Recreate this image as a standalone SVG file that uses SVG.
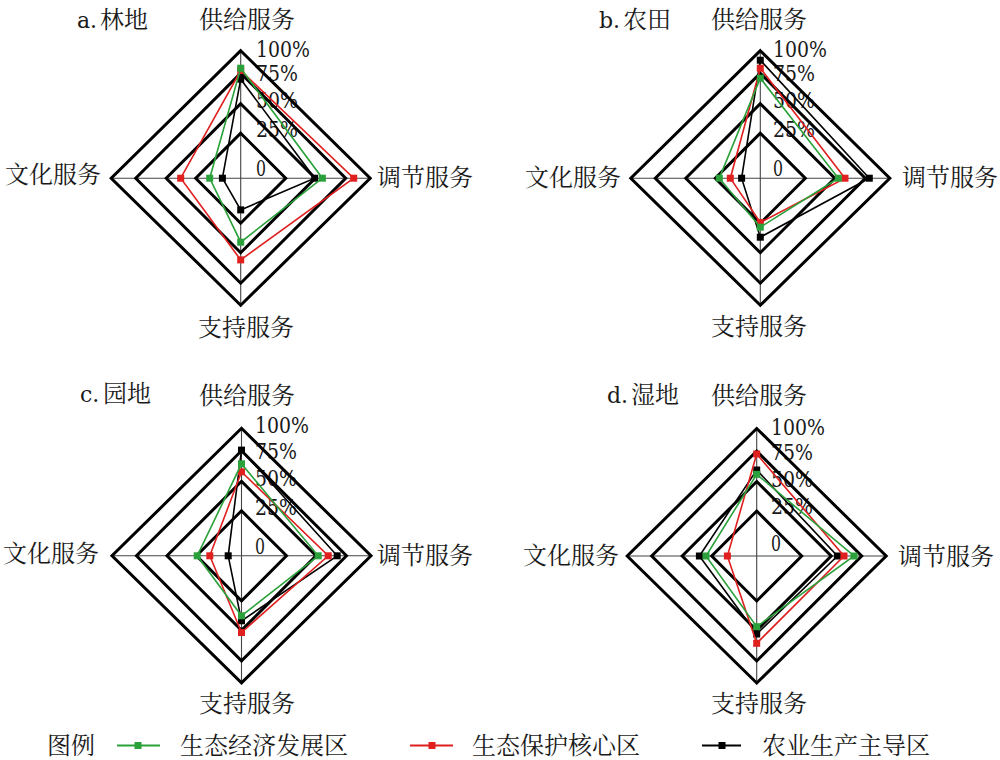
<svg xmlns="http://www.w3.org/2000/svg" xmlns:xlink="http://www.w3.org/1999/xlink" width="1000" height="760" viewBox="0 0 1000 760">
<style>
.lb{font-family:'Noto Serif CJK SC','Noto Sans CJK SC',sans-serif;font-size:24px;fill:#1a1a1a}
.num{font-family:'DejaVu Serif',serif;font-size:22px;fill:#1a1a1a}
.lat{font-family:'DejaVu Serif',serif;font-size:22px}
.ring{fill:none;stroke:#000;stroke-width:3;stroke-linejoin:miter}
.axis{stroke:#444;stroke-width:1.1}
.g{fill:none;stroke:#2aa13a;stroke-width:1.6;marker-start:url(#mg);marker-mid:url(#mg)}
.r{fill:none;stroke:#e01f1f;stroke-width:1.6;marker-start:url(#mr);marker-mid:url(#mr)}
.k{fill:none;stroke:#000;stroke-width:1.6;marker-start:url(#mk);marker-mid:url(#mk)}
</style>
<defs>
<marker id="mg" markerUnits="userSpaceOnUse" markerWidth="8" markerHeight="8" refX="4" refY="4" viewBox="0 0 8 8"><rect x="0.5" y="0.5" width="7" height="7" fill="#2aa13a"/></marker>
<marker id="mr" markerUnits="userSpaceOnUse" markerWidth="8" markerHeight="8" refX="4" refY="4" viewBox="0 0 8 8"><rect x="0.5" y="0.5" width="7" height="7" fill="#e01f1f"/></marker>
<marker id="mk" markerUnits="userSpaceOnUse" markerWidth="8" markerHeight="8" refX="4" refY="4" viewBox="0 0 8 8"><rect x="0.5" y="0.5" width="7" height="7" fill="#000"/></marker>
<g id="grid">
<line class="axis" x1="0" y1="-128.5" x2="0" y2="128.5"/>
<line class="axis" x1="-129.5" y1="0" x2="129.5" y2="0"/>
<path class="ring" d="M0,-45 L45,0 L0,45 L-45,0 Z"/>
<path class="ring" d="M0,-74.5 L74.5,0 L0,74.5 L-74.5,0 Z"/>
<path class="ring" d="M0,-105 L105,0 L0,105 L-105,0 Z"/>
<path class="ring" d="M0,-127.5 L129.5,0 L0,127 L-129.5,0 Z"/>
</g>
</defs>

<g id="chart-a">
<text class="num" x="256" y="57" textLength="54" lengthAdjust="spacingAndGlyphs">100%</text>
<text class="num" x="256" y="81" textLength="42" lengthAdjust="spacingAndGlyphs">75%</text>
<text class="num" x="256" y="108" textLength="42" lengthAdjust="spacingAndGlyphs">50%</text>
<text class="num" x="256" y="137" textLength="42" lengthAdjust="spacingAndGlyphs">25%</text>
<text class="num" x="256" y="176" textLength="10" lengthAdjust="spacingAndGlyphs">0</text>
<g transform="translate(240.7,178.2)">
<use xlink:href="#grid"/>
<g id="series-a">
<path class="k" d="M0,-99 L74,0 L0,31.7 L-18.3,0 Z"/>
<path class="r" d="M0,-107.7 L113,0 L0,81.7 L-60,0 Z"/>
<path class="g" d="M0,-110 L81.7,0 L0,64 L-31,0 Z"/>
</g>
</g>
<text class="lb" x="77" y="28"><tspan class="lat">a.</tspan><tspan x="100">林地</tspan></text>
<text class="lb" x="199" y="28">供给服务</text>
<text class="lb" x="5" y="183">文化服务</text>
<text class="lb" x="377" y="186">调节服务</text>
<text class="lb" x="198" y="336">支持服务</text>
</g>

<g id="chart-b">
<text class="num" x="773" y="57" textLength="54" lengthAdjust="spacingAndGlyphs">100%</text>
<text class="num" x="773" y="81" textLength="42" lengthAdjust="spacingAndGlyphs">75%</text>
<text class="num" x="773" y="108" textLength="42" lengthAdjust="spacingAndGlyphs">50%</text>
<text class="num" x="773" y="137" textLength="42" lengthAdjust="spacingAndGlyphs">25%</text>
<text class="num" x="773" y="176" textLength="10" lengthAdjust="spacingAndGlyphs">0</text>
<g transform="translate(760.3,178.2)">
<use xlink:href="#grid"/>
<g id="series-b">
<path class="k" d="M0,-118 L109,0 L0,59 L-18.7,0 Z"/>
<path class="r" d="M0,-110 L84.7,0 L0,44.3 L-30,0 Z"/>
<path class="g" d="M0,-100 L78,0 L0,49 L-41,0 Z"/>
</g>
</g>
<text class="lb" x="599" y="28"><tspan class="lat">b.</tspan><tspan x="623">农田</tspan></text>
<text class="lb" x="711" y="28">供给服务</text>
<text class="lb" x="525" y="186">文化服务</text>
<text class="lb" x="902" y="186">调节服务</text>
<text class="lb" x="711" y="335">支持服务</text>
</g>

<g id="chart-c">
<text class="num" x="255" y="433" textLength="54" lengthAdjust="spacingAndGlyphs">100%</text>
<text class="num" x="255" y="459" textLength="42" lengthAdjust="spacingAndGlyphs">75%</text>
<text class="num" x="255" y="486" textLength="42" lengthAdjust="spacingAndGlyphs">50%</text>
<text class="num" x="255" y="515" textLength="42" lengthAdjust="spacingAndGlyphs">25%</text>
<text class="num" x="255" y="554" textLength="10" lengthAdjust="spacingAndGlyphs">0</text>
<g transform="translate(241.5,555.8)">
<use xlink:href="#grid"/>
<g id="series-c">
<path class="k" d="M0,-105.7 L95.7,0 L0,65 L-13.3,0 Z"/>
<path class="r" d="M0,-84 L86.7,0 L0,76.7 L-31.7,0 Z"/>
<path class="g" d="M0,-92 L76.7,0 L0,60 L-44.3,0 Z"/>
</g>
</g>
<text class="lb" x="80" y="402"><tspan class="lat">c.</tspan><tspan x="103">园地</tspan></text>
<text class="lb" x="199" y="404">供给服务</text>
<text class="lb" x="3" y="562">文化服务</text>
<text class="lb" x="377" y="564">调节服务</text>
<text class="lb" x="199" y="712">支持服务</text>
</g>

<g id="chart-d">
<text class="num" x="771" y="435" textLength="54" lengthAdjust="spacingAndGlyphs">100%</text>
<text class="num" x="771" y="460" textLength="42" lengthAdjust="spacingAndGlyphs">75%</text>
<text class="num" x="771" y="487" textLength="42" lengthAdjust="spacingAndGlyphs">50%</text>
<text class="num" x="771" y="514" textLength="42" lengthAdjust="spacingAndGlyphs">25%</text>
<text class="num" x="771" y="551" textLength="10" lengthAdjust="spacingAndGlyphs">0</text>
<g transform="translate(756.7,556)">
<use xlink:href="#grid"/>
<g id="series-d">
<path class="k" d="M0,-86 L80.7,0 L0,78 L-57.3,0 Z"/>
<path class="r" d="M0,-102 L87.3,0 L0,87.3 L-29.3,0 Z"/>
<path class="g" d="M0,-81.7 L97.3,0 L0,70.7 L-50.7,0 Z"/>
</g>
</g>
<text class="lb" x="607" y="403"><tspan class="lat">d.</tspan><tspan x="631">湿地</tspan></text>
<text class="lb" x="711" y="404">供给服务</text>
<text class="lb" x="523" y="564">文化服务</text>
<text class="lb" x="898" y="565">调节服务</text>
<text class="lb" x="711" y="712">支持服务</text>
</g>

<g id="legend">
<text class="lb" x="47" y="754">图例</text>
<line x1="117" y1="745.5" x2="160" y2="745.5" stroke="#2aa13a" stroke-width="2"/>
<rect x="134.5" y="742" width="7" height="7" fill="#2aa13a"/>
<text class="lb" x="180" y="754">生态经济发展区</text>
<line x1="410" y1="745.5" x2="453" y2="745.5" stroke="#e01f1f" stroke-width="2"/>
<rect x="428.5" y="742" width="7" height="7" fill="#e01f1f"/>
<text class="lb" x="472" y="754">生态保护核心区</text>
<line x1="702" y1="745.5" x2="741" y2="745.5" stroke="#000" stroke-width="2"/>
<rect x="718.5" y="742" width="7" height="7" fill="#000"/>
<text class="lb" x="762" y="754">农业生产主导区</text>
</g>
</svg>
